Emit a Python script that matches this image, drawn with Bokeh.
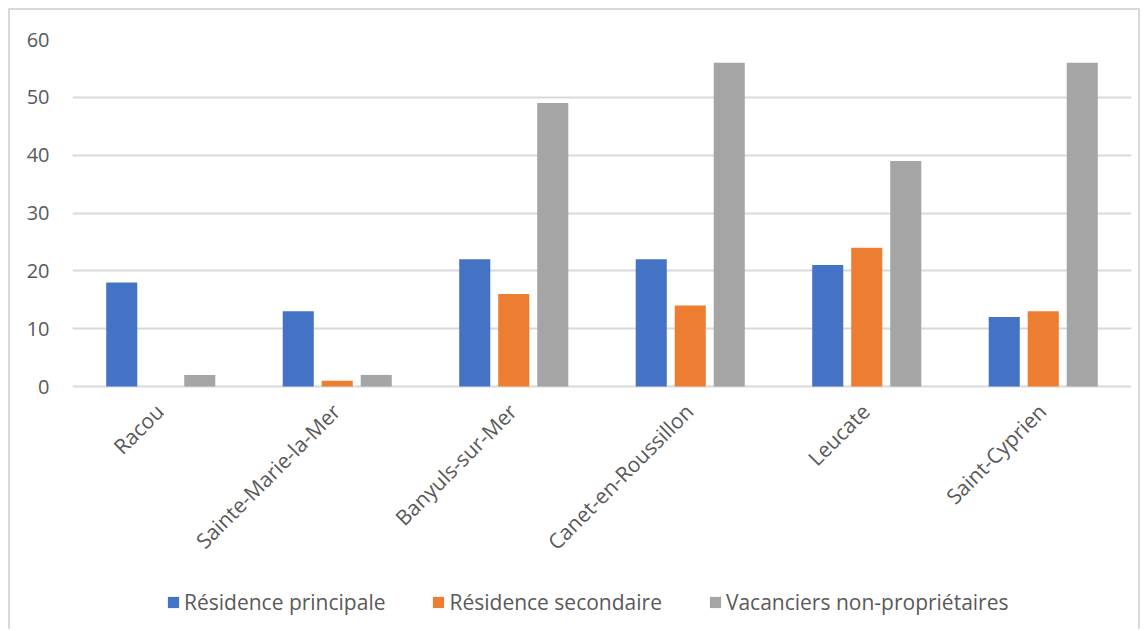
import math
from bokeh.plotting import figure
from bokeh.models import FactorRange, FixedTicker, Legend, LegendItem, ColumnDataSource, Range1d
from bokeh.transform import dodge
from bokeh.core.properties import value
from bokeh.embed import file_html
from bokeh.resources import INLINE

communes = ["Racou", "Sainte-Marie-la-Mer", "Banyuls-sur-Mer",
            "Canet-en-Roussillon", "Leucate", "Saint-Cyprien"]
residence_principale = [18, 13, 22, 22, 21, 12]
residence_secondaire = [0, 1, 16, 14, 24, 13]
vacanciers_non_proprietaires = [2, 2, 49, 56, 39, 56]
series_names = ["Résidence principale", "Résidence secondaire",
                "Vacanciers non-propriétaires"]
series_keys = ["principale", "secondaire", "vacanciers"]
colors = ["#4472C4", "#ED7D31", "#A5A5A5"]
y_ticks = [0, 10, 20, 30, 40, 50, 60]

FONT = "Open Sans"
TXT = "#595959"
GRID = "#d9d9d9"

src = ColumnDataSource(dict(
    commune=communes,
    principale=residence_principale,
    secondaire=residence_secondaire,
    vacanciers=vacanciers_non_proprietaires,
    zero=[0] * len(communes),
))

# frame: top at 60, value 0 placed 347 px below; frame runs to canvas bottom
H_CANVAS = 621
TOP = 29
PX_PER_UNIT = 347 / 60
y_start = 60 - (H_CANVAS - TOP) / PX_PER_UNIT

p = figure(
    x_range=FactorRange(factors=communes),
    y_range=Range1d(y_start, 60),
    width=1132, height=H_CANVAS,
    output_backend="svg", toolbar_location=None,
    x_axis_location=None,
    min_border_left=62, min_border_right=11,
    min_border_top=TOP, min_border_bottom=0,
)
p.styles = {"border-top": "2px solid #d9d9d9",
            "border-left": "2px solid #d9d9d9",
            "border-right": "2px solid #d9d9d9",
            "margin-left": "8px", "margin-top": "8px"}
p.outline_line_color = None
p.background_fill_color = "white"
p.border_fill_color = "white"

offsets = [-0.221, 0.0, 0.221]
renderers = []
for key, off, col in zip(series_keys, offsets, colors):
    r = p.vbar(x=dodge("commune", off, range=p.x_range), top=key, bottom=0,
               width=0.176, source=src, fill_color=col, line_color=None)
    renderers.append(r)

# category labels (rotated 45°)
p.text(x="commune", y="zero", text="commune", source=src,
       angle=math.pi / 4, text_align="right", text_baseline="middle",
       x_offset=-1, y_offset=21,
       text_font=value(FONT), text_font_size="21px", text_color=TXT)

# y axis
p.yaxis.ticker = FixedTicker(ticks=y_ticks)
p.yaxis.axis_line_color = None
p.yaxis.major_tick_line_color = None
p.yaxis.minor_tick_line_color = None
p.yaxis.major_tick_out = 0
p.yaxis.major_label_standoff = 23
p.yaxis.major_label_text_font = FONT
p.yaxis.major_label_text_font_size = "20px"
p.yaxis.major_label_text_color = TXT

p.xgrid.grid_line_color = None
p.ygrid.ticker = FixedTicker(ticks=y_ticks)
p.ygrid.grid_line_color = GRID
p.ygrid.grid_line_width = 2

legend = Legend(
    items=[LegendItem(label=n, renderers=[r]) for n, r in zip(series_names, renderers)],
    orientation="horizontal", location=(94, 15),
    padding=0, margin=0, border_line_color=None, background_fill_alpha=0,
    glyph_width=14, glyph_height=14, label_standoff=4, spacing=46,
    label_text_font=FONT, label_text_font_size="21px", label_text_color=TXT,
    label_height=20,
)
p.add_layout(legend)

open("out.html", "w").write(file_html(p, INLINE))
